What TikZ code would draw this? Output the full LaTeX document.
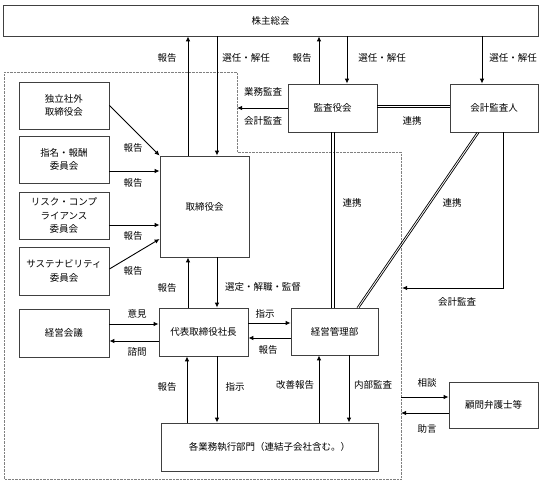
\documentclass[tikz,border=0pt]{standalone}
\usepackage{fontspec}
\setmainfont{Noto Sans CJK JP}
\usetikzlibrary{arrows.meta}

\tikzset{
	box/.style 2 args={draw=black!75, line width=0.8pt, align=center, inner sep=0pt, minimum width=#1, minimum height=#2},
	ar/.style={-{Latex[length=5pt,width=4.5pt]}, line width=0.9pt},
	dbl/.style={line width=0.7pt},
	lbl/.style={inner sep=0pt},
	every node/.append style={font=\fontsize{9.5}{13.5}\selectfont}
}

\begin{document}
\begin{tikzpicture}[x=1pt,y=-1pt]
				\useasboundingbox (0,0) rectangle (542,482);
				% boxes
				\node[box={535}{31}] (GM) at (270.5,20.5) {株主総会};
				\node[box={90}{47}] (ID) at (64,105.5) {独立社外\\取締役会};
				\node[box={90}{47}] (NR) at (64,159.5) {指名・報酬\\委員会};
				\node[box={90}{47}] (RC) at (64,215.5) {リスク・コンプ\\ライアンス\\委員会};
				\node[box={90}{48}] (SU) at (64,271) {サステナビリティ\\委員会};
				\node[box={89}{101}] (BD) at (204.5,206.5) {取締役会};
				\node[box={89}{48}] (AB) at (332.5,108) {監査役会};
				\node[box={88}{48}] (AU) at (494,108) {会計監査人};
				\node[box={90}{48}] (MC) at (64,333) {経営会議};
				\node[box={89}{48}] (CEO) at (203.5,332) {代表取締役社長};
				\node[box={87}{47}] (MA) at (334.5,331.5) {経営管理部};
				\node[box={217}{48}] (OP) at (269.5,447) {各業務執行部門（連結子会社含む。）};
				\node[box={89}{46}] (LAW) at (493.5,405) {顧問弁護士等};
				% free ends on the dotted line
				\coordinate (ABL) at (237,108);
				\coordinate (AUE) at (402,288);
				\coordinate (LS) at (401,397);
				\coordinate (LH) at (401,413);
				\draw[densely dotted, black!50] (4,72) -- (237,72) -- (237,152) -- (401,152) -- (401,479) -- (4,479) -- cycle;
				% arrows
				\draw[ar] (BD.north -| 188,0) -- (GM.south -| 188,0);
				\draw[ar] (GM.south -| 217,0) -- (BD.north -| 217,0);
				\draw[ar] (AB.north -| 319,0) -- (GM.south -| 319,0);
				\draw[ar] (GM.south -| 347,0) -- (AB.north -| 347,0);
				\draw[ar] (GM.south -| 482,0) -- (AU.north -| 482,0);
				\draw[ar] (AB.west) -- (ABL);
				% double lines (連携)
				\draw[dbl] (AB.east |- 0,105.2) -- (AU.west |- 0,105.2);
				\draw[dbl] (AB.east |- 0,107.8) -- (AU.west |- 0,107.8);
				\draw[dbl] (AB.south -| 331.7,0) -- (MA.north -| 331.7,0);
				\draw[dbl] (AB.south -| 334.3,0) -- (MA.north -| 334.3,0);
				\draw[dbl] (AU.south -| 477,0) -- (MA.north -| 357,0);
				\draw[dbl] (AU.south -| 479.2,0) -- (MA.north -| 359.2,0);
				\draw[ar] (AU.south -| 503,0) |- (AUE);
				\draw[ar] (ID.east) -- (BD.north west);
				\draw[ar] (NR.east |- 0,171) -- (BD.west |- 0,171);
				\draw[ar] (RC.east |- 0,225) -- (BD.west |- 0,225);
				\draw[ar] (SU.east |- 0,269) -- (BD.west |- 0,239);
				\draw[ar] (CEO.north -| 188,0) -- (BD.south -| 188,0);
				\draw[ar] (BD.south -| 217,0) -- (CEO.north -| 217,0);
				\draw[ar] (MC.east |- 0,324) -- (CEO.west |- 0,324);
				\draw[ar] (CEO.west |- 0,341) -- (MC.east |- 0,341);
				\draw[ar] (CEO.east |- 0,323) -- (MA.west |- 0,323);
				\draw[ar] (MA.west |- 0,338) -- (CEO.east |- 0,338);
				\draw[ar] (OP.north -| 187,0) -- (CEO.south -| 187,0);
				\draw[ar] (CEO.south -| 217,0) -- (OP.north -| 217,0);
				\draw[ar] (OP.north -| 319,0) -- (MA.south -| 319,0);
				\draw[ar] (MA.south -| 349,0) -- (OP.north -| 349,0);
				\draw[ar] (LS) -- (LAW.west |- LS);
				\draw[ar] (LAW.west |- LH) -- (LH);
				% labels
				\node[lbl] (r1) at (167,58) {報告};
				\node[lbl] (s1) at (246,58) {選任・解任};
				\node[lbl] (r2) at (302,58) {報告};
				\node[lbl] (s2) at (382,58) {選任・解任};
				\node[lbl] (s3) at (513,58) {選任・解任};
				\node[lbl] (g1) at (263,92) {業務監査};
				\node[lbl] (g2) at (263,121) {会計監査};
				\node[lbl] (c1) at (412,121) {連携};
				\node[lbl] (c2) at (352,203) {連携};
				\node[lbl] (c3) at (452,203) {連携};
				\node[lbl] (g3) at (457,302) {会計監査};
				\node[lbl] (r3) at (133,148) {報告};
				\node[lbl] (r4) at (133,183) {報告};
				\node[lbl] (r5) at (133,236) {報告};
				\node[lbl] (r6) at (133,271) {報告};
				\node[lbl] (r7) at (167,288) {報告};
				\node[lbl] (e1) at (263,287) {選定・解職・監督};
				\node[lbl] (o1) at (137,314) {意見};
				\node[lbl] (o2) at (137,352) {諮問};
				\node[lbl] (i1) at (265,314) {指示};
				\node[lbl] (r8) at (268,350) {報告};
				\node[lbl] (r9) at (167,387) {報告};
				\node[lbl] (i2) at (235,387) {指示};
				\node[lbl] (k1) at (295,385) {改善報告};
				\node[lbl] (k2) at (373,385) {内部監査};
				\node[lbl] (h1) at (427,383) {相談};
				\node[lbl] (h2) at (427,429) {助言};
			\end{tikzpicture}
\end{document}
